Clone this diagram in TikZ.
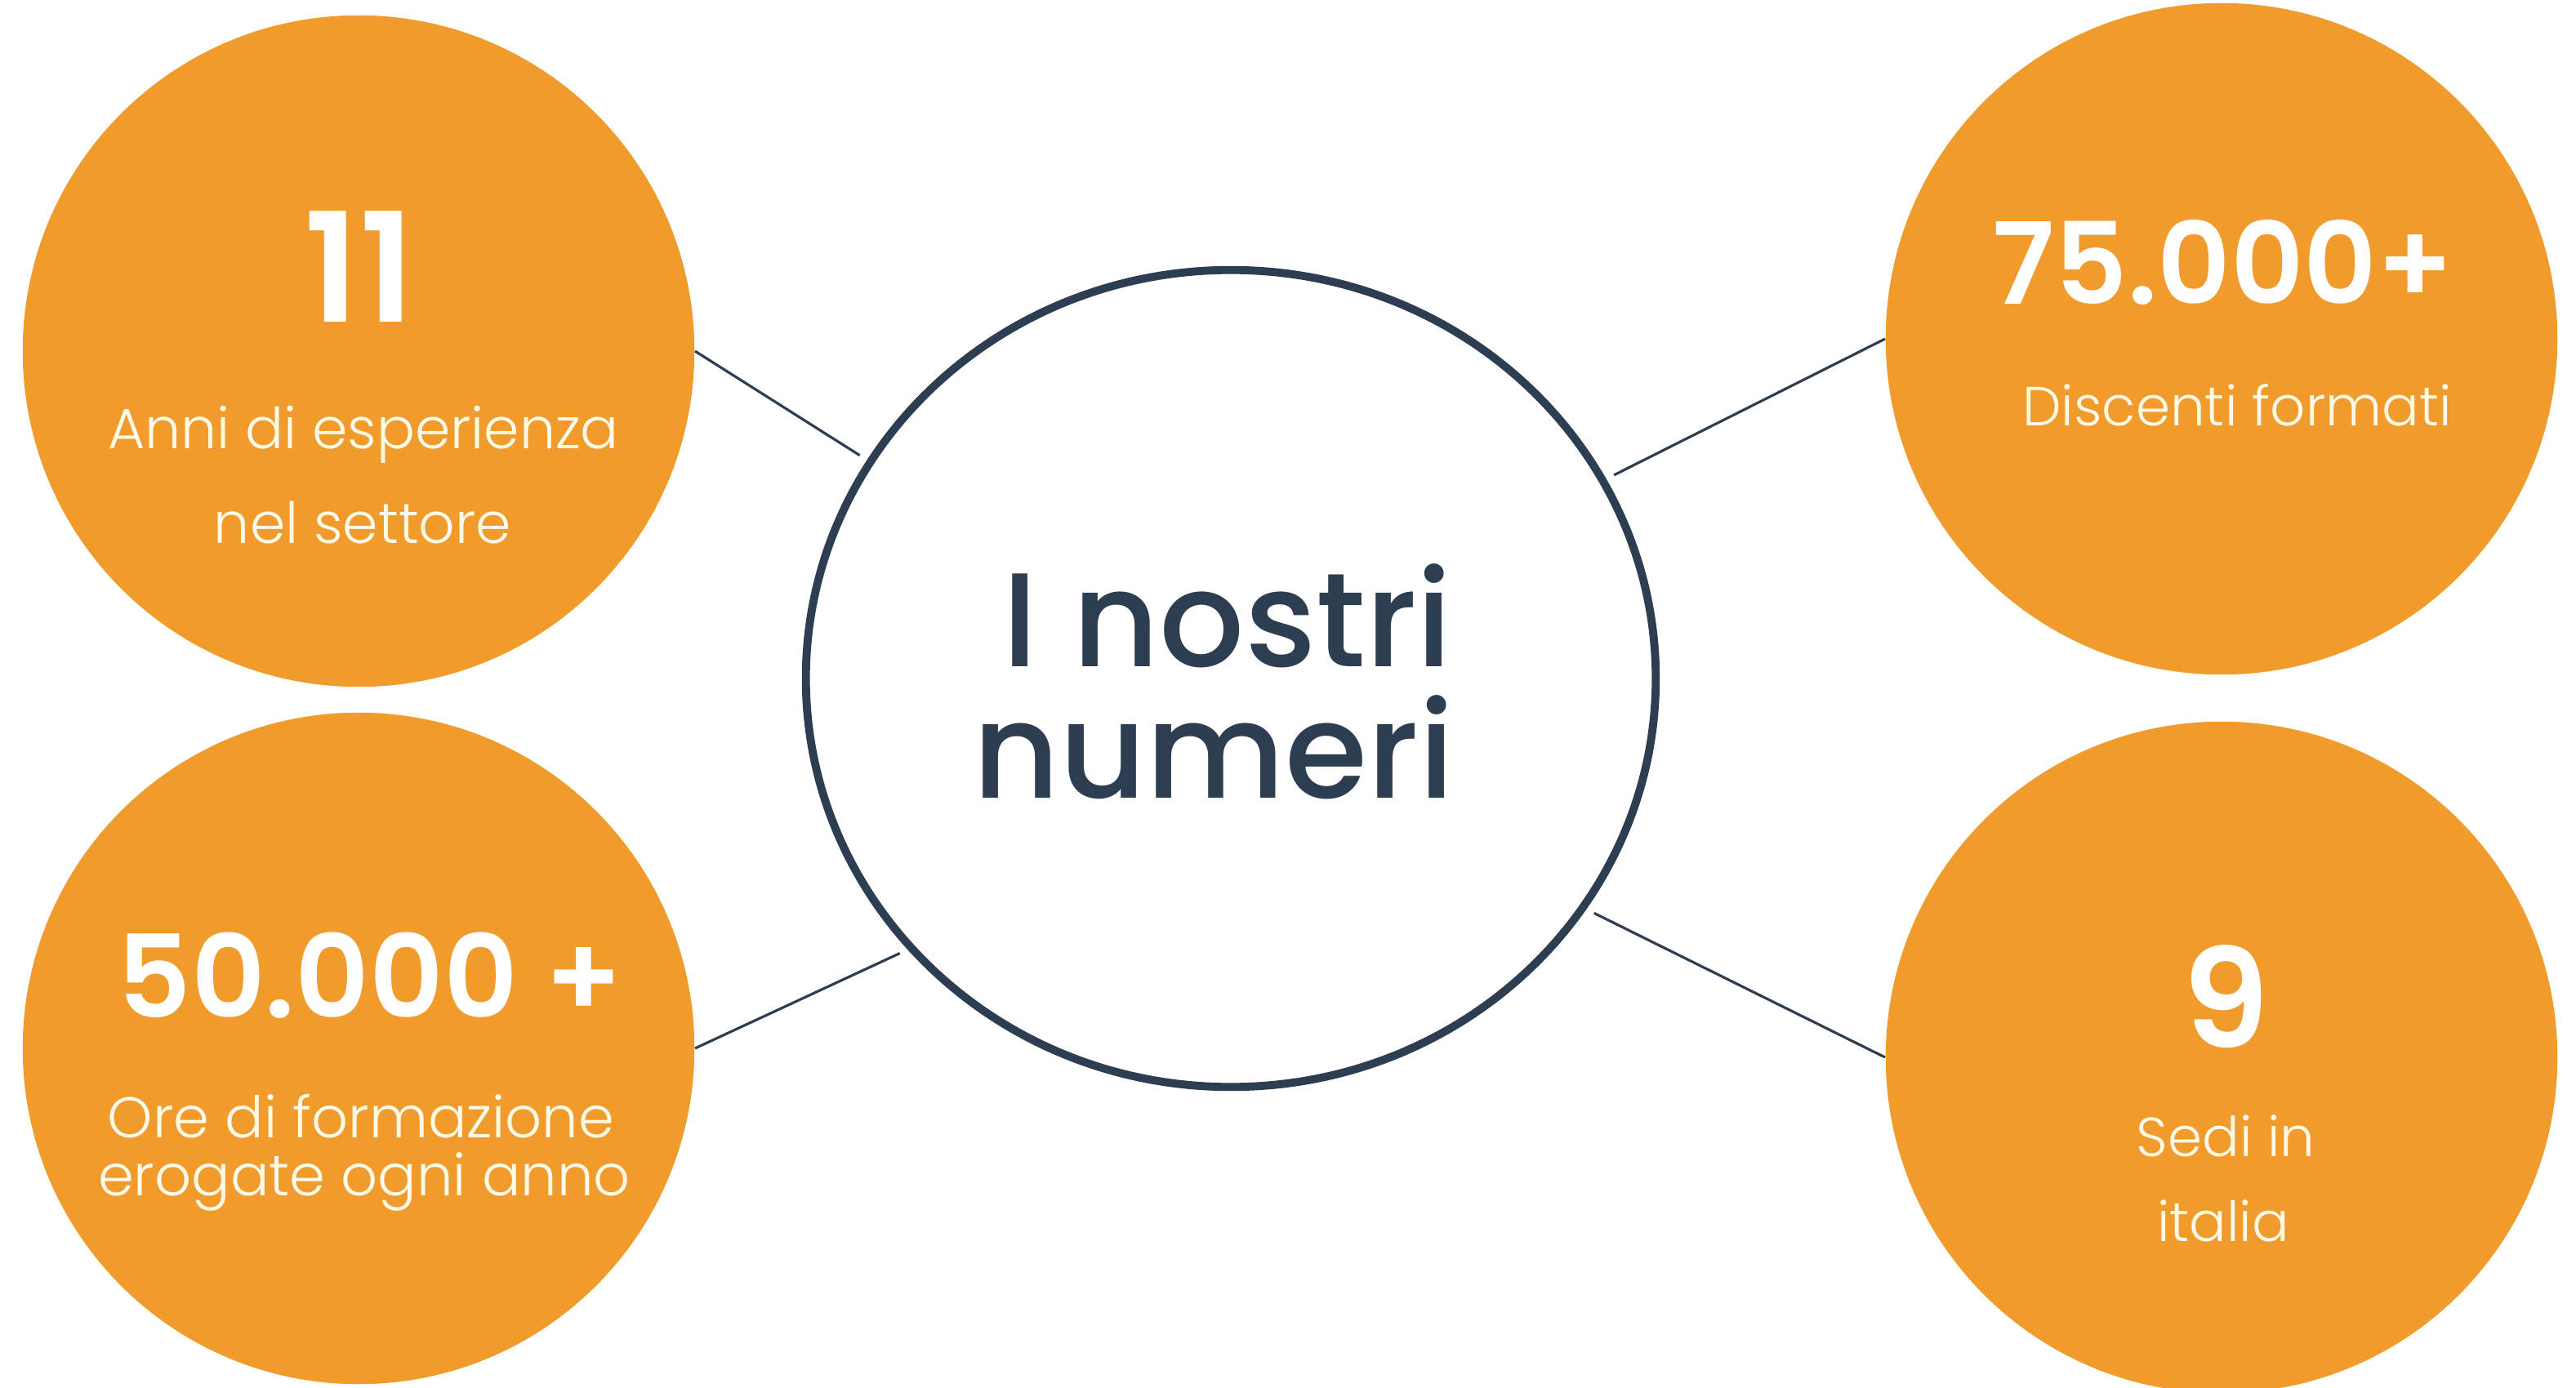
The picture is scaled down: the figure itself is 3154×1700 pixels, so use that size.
\documentclass[tikz,border=0pt]{standalone}
\usepackage{fontspec}
\setmainfont{Poppins}
\newfontfamily\lightf{Poppins Light}
\newfontfamily\semif{Poppins SemiBold}
\newfontfamily\medf{Poppins Medium}
\usetikzlibrary{shapes.geometric}
\definecolor{orng}{RGB}{240,155,44}
\definecolor{navy}{RGB}{45,62,82}
\definecolor{cream}{RGB}{255,249,232}
\begin{document}
\begin{tikzpicture}[x=0.01cm,y=-0.01cm,
  stat/.style={circle,fill=orng,minimum size=8.22cm,inner sep=0pt},
  hub/.style={ellipse,draw=navy,line width=2.8pt,minimum width=10.4cm,minimum height=10.0cm,inner sep=0pt,fill=white},
  link/.style={draw=navy,line width=0.9pt,shorten >=3pt},
  bignum/.style={anchor=base,text=white,inner sep=0pt},
  sub/.style={anchor=base,text=cream,inner sep=0pt},
  title/.style={anchor=base,text=navy,inner sep=0pt,font=\medf\fontsize{46.5}{54}\selectfont},
]
\fill[white] (0,0) rectangle (3154,1700);
\useasboundingbox (0,0) rectangle (3154,1700);

\node[stat] (tl) at (439,430) {};
\node[stat] (bl) at (439,1284) {};
\node[stat] (tr) at (2720,415) {};
\node[stat] (br) at (2720,1295) {};
\node[hub] (c) at (1507,831) {};

\draw[link] (tl.east) -- (c.149);
\draw[link] (tr.west) -- (c.28);
\draw[link] (bl.east) -- (c.220);
\draw[link] (br.west) -- (c.-33);

\node[title] (t1) at (1503,816) {I nostri};
\node[title] (t2) at (1486,977) {numeri};

\node[bignum,font=\semif\fontsize{53}{60}\selectfont] (tlnum) at (440,394) {11};
\node[sub,font=\lightf\fontsize{19.8}{24}\selectfont] (tls1) at (445,549) {Anni di esperienza};
\node[sub,font=\lightf\fontsize{19.8}{24}\selectfont] (tls2) at (444,665) {nel settore};

\node[bignum,font=\semif\fontsize{40}{50}\selectfont] (blnum) at (453,1246) {50.000 +};
\node[sub,font=\lightf\fontsize{20}{24}\selectfont] (bls1) at (442,1393) {Ore di formazione};
\node[sub,font=\lightf\fontsize{20}{24}\selectfont] (bls2) at (446,1464) {erogate ogni anno};

\node[bignum,font=\semif\fontsize{39.5}{48}\selectfont] (trnum) at (2722,372) {75.000+};
\node[sub,font=\lightf\fontsize{19.2}{24}\selectfont] (trs1) at (2739,521) {Discenti formati};

\node[bignum,font=\semif\fontsize{48}{56}\selectfont] (brnum) at (2725,1283) {9};
\node[sub,font=\lightf\fontsize{19.2}{24}\selectfont] (brs1) at (2725,1416) {Sedi in};
\node[sub,font=\lightf\fontsize{19.2}{24}\selectfont] (brs2) at (2722,1520) {italia};
\end{tikzpicture}
\end{document}
